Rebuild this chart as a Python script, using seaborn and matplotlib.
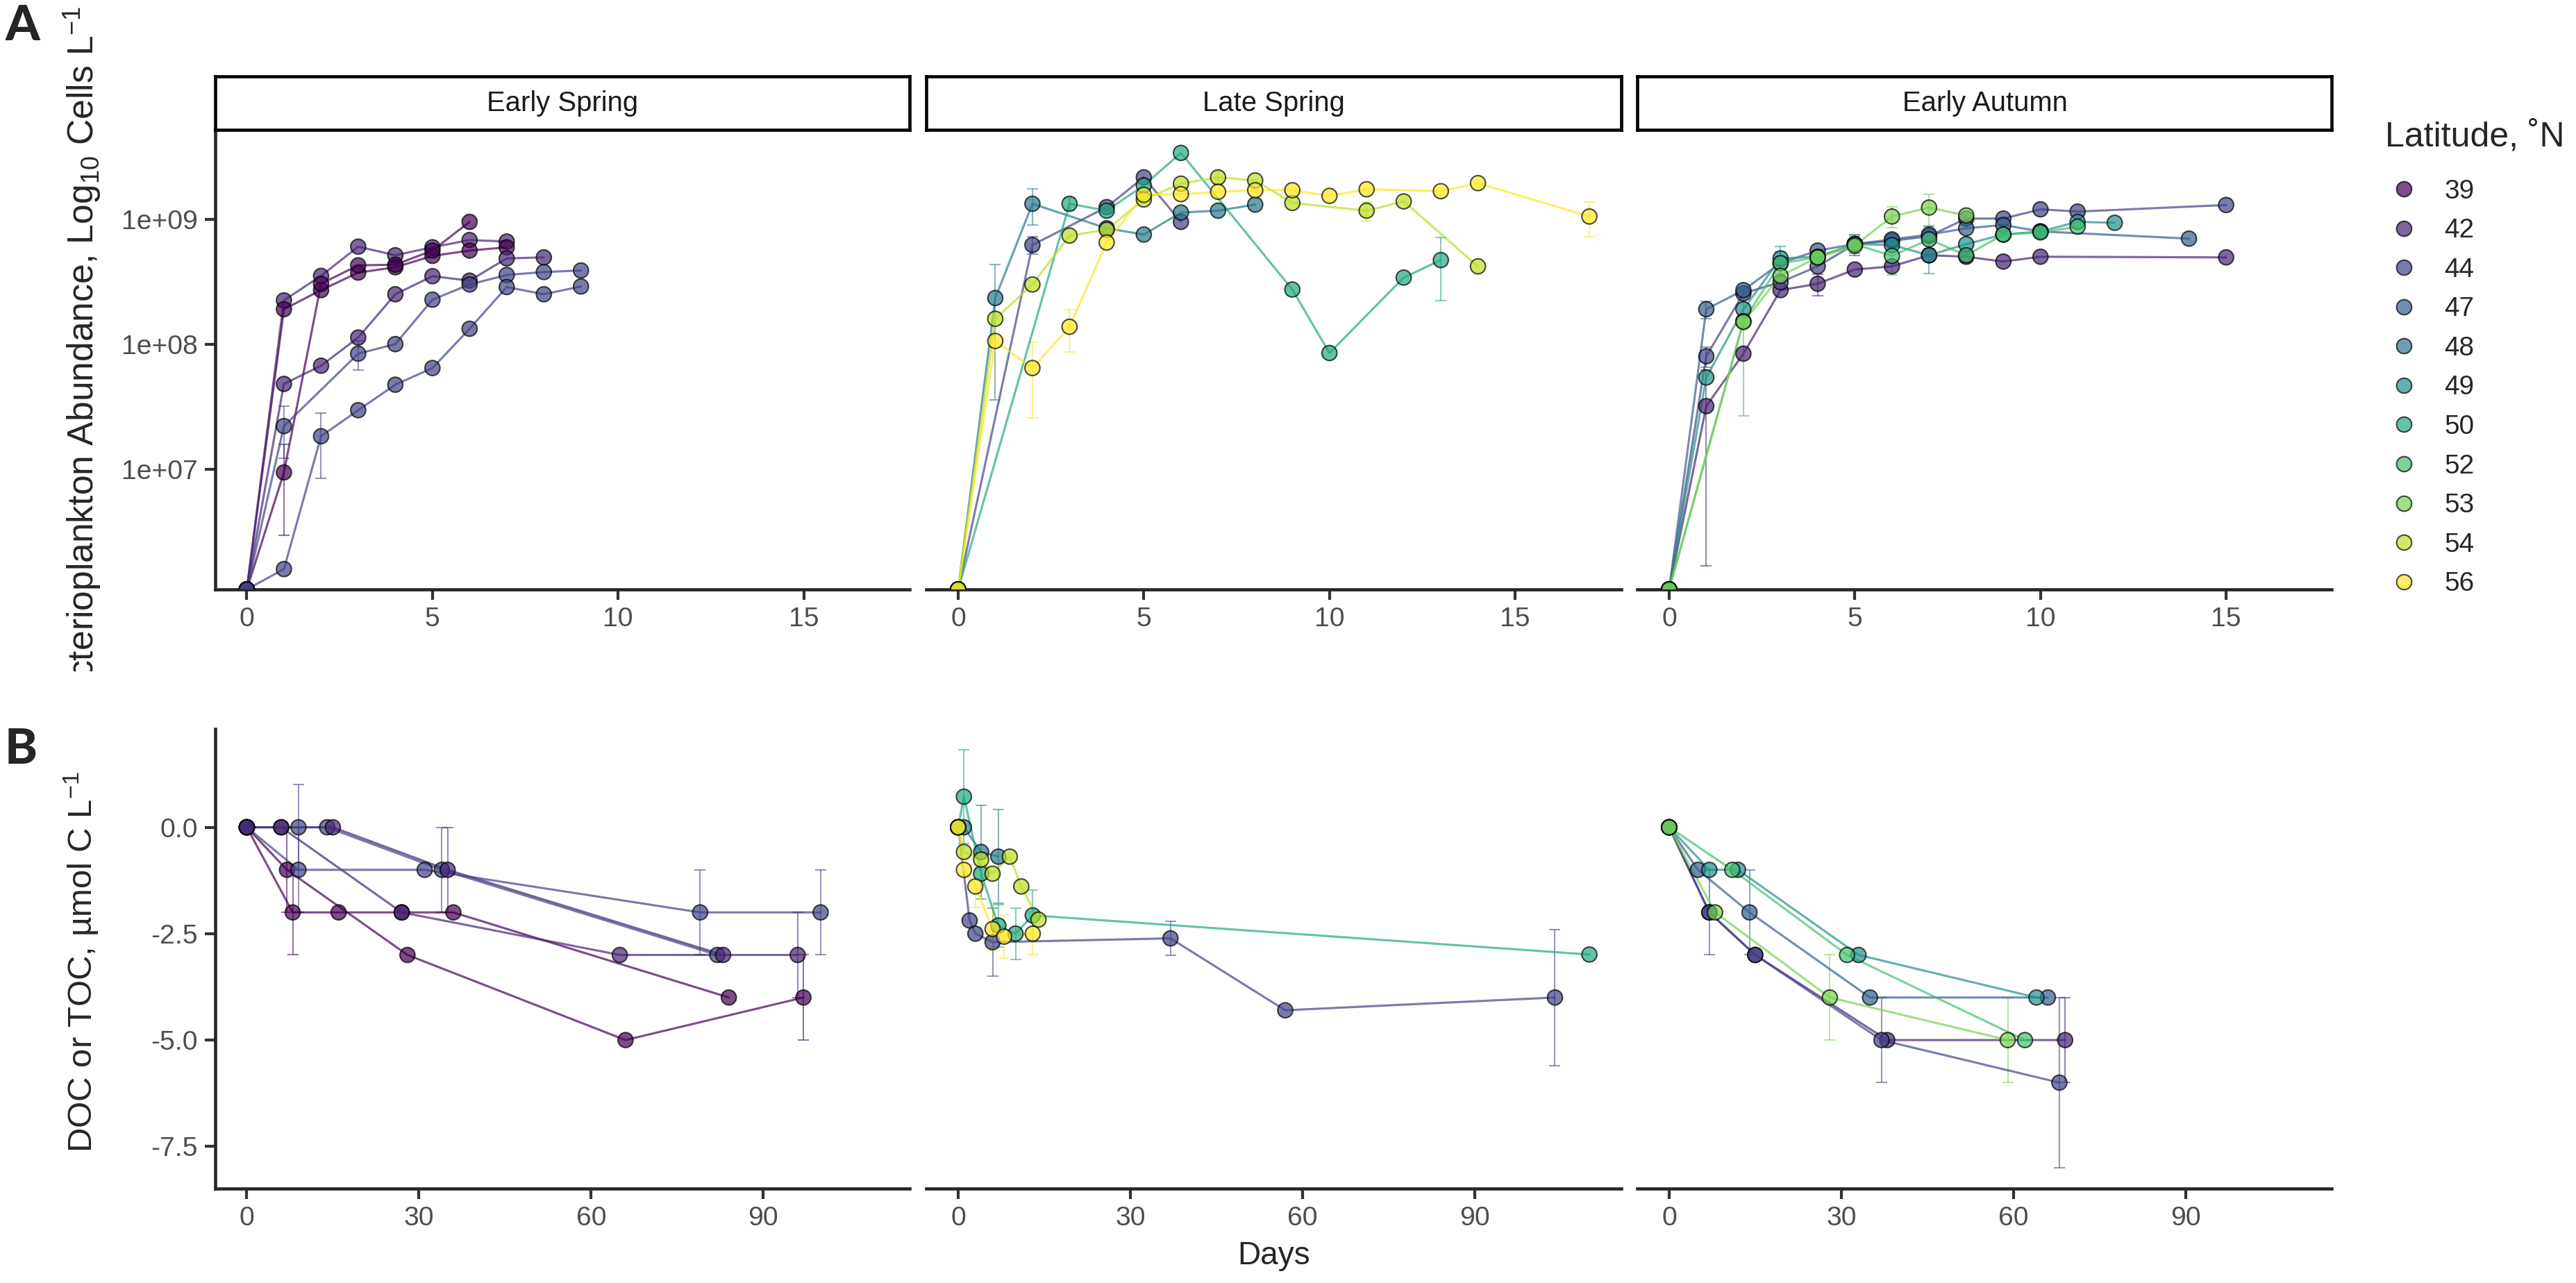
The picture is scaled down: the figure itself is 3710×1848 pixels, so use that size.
import matplotlib
matplotlib.use("Agg")
import matplotlib.pyplot as plt
import seaborn as sns
import pandas as pd
import numpy as np
from matplotlib.lines import Line2D
from matplotlib.ticker import NullLocator
from matplotlib.transforms import Bbox

# latitude levels (legend) and facet names
lat_levels = [39, 42, 44, 47, 48, 49, 50, 52, 53, 54, 56]
seasons = ["Early Spring", "Late Spring", "Early Autumn"]

# ---------- panel A: bacterioplankton abundance (cells per litre) ----------
es_cells_lat = [42, 39, 39, 42, 44, 44]
es_cells_days = [
    [0, 1, 2, 3, 4, 5, 6, 7],
    [0, 1, 2, 3, 4, 5, 6, 7],
    [0, 1, 2, 3, 4, 5, 6],
    [0, 1, 2, 3, 4, 5, 6, 7, 8],
    [0, 1, 3, 4, 5, 6, 7, 8, 9],
    [0, 1, 2, 3, 4, 5, 6, 7, 8, 9],
]
es_cells_vals = [
    [1.1e6, 2.26e8, 3.55e8, 6.08e8, 5.19e8, 6.01e8, 6.87e8, 6.68e8],
    [1.1e6, 1.92e8, 2.73e8, 3.77e8, 4.16e8, 5.13e8, 5.66e8, 6.01e8],
    [1.1e6, 9.5e6, 3.07e8, 4.31e8, 4.36e8, 5.66e8, 9.6e8],
    [1.1e6, 4.85e7, 6.78e7, 1.14e8, 2.53e8, 3.53e8, 3.25e8, 4.9e8, 4.99e8],
    [1.1e6, 2.23e7, 8.47e7, 1.01e8, 2.29e8, 3.03e8, 3.61e8, 3.81e8, 3.92e8],
    [1.1e6, 1.6e6, 1.85e7, 2.99e7, 4.78e7, 6.5e7, 1.34e8, 2.89e8, 2.53e8, 2.92e8],
]
es_cells_sd = [{}, {}, {1: 6.5e6}, {}, {1: 1.0e7, 3: 2.2e7}, {2: 1.0e7}]

ls_cells_lat = [44, 48, 50, 54, 56]
ls_cells_days = [
    [0, 2, 4, 5, 6],
    [0, 1, 2, 4, 5, 6, 7, 8],
    [0, 3, 4, 5, 6, 9, 10, 12, 13],
    [0, 1, 2, 3, 4, 5, 6, 7, 8, 9, 11, 12, 14],
    [0, 1, 2, 3, 4, 5, 6, 7, 8, 9, 10, 11, 13, 14, 17],
]
ls_cells_vals = [
    [1.1e6, 6.27e8, 1.26e9, 2.18e9, 9.6e8],
    [1.1e6, 2.36e8, 1.34e9, 8.53e8, 7.6e8, 1.14e9, 1.18e9, 1.32e9],
    [1.1e6, 1.34e9, 1.18e9, 1.88e9, 3.42e9, 2.76e8, 8.57e7, 3.44e8, 4.75e8],
    [1.1e6, 1.61e8, 3.03e8, 7.46e8, 8.3e8, 1.45e9, 1.94e9, 2.18e9, 2.06e9,
     1.36e9, 1.18e9, 1.4e9, 4.23e8],
    [1.1e6, 1.07e8, 6.5e7, 1.39e8, 6.56e8, 1.58e9, 1.6e9, 1.67e9, 1.72e9,
     1.72e9, 1.55e9, 1.75e9, 1.69e9, 1.96e9, 1.06e9],
]
ls_cells_sd = [{2: 1.0e8}, {1: 2.0e8, 2: 4.3e8}, {3: 1.5e8, 13: 2.5e8},
               {7: 2.5e8, 11: 2.0e8}, {2: 3.9e7, 3: 5.2e7, 17: 3.3e8}]

ea_cells_lat = [42, 44, 47, 49, 52, 53]
ea_cells_days = [
    [0, 1, 2, 3, 4, 5, 6, 7, 8, 9, 10, 15],
    [0, 1, 2, 3, 4, 5, 6, 7, 8, 9, 10, 11, 15],
    [0, 1, 2, 3, 4, 5, 6, 7, 8, 9, 10, 14],
    [0, 1, 2, 3, 4, 5, 6, 7, 8, 9, 10, 11, 12],
    [0, 2, 3, 4, 5, 6, 7, 8, 9, 10, 11],
    [0, 2, 3, 4, 5, 6, 7, 8],
]
ea_cells_vals = [
    [1.1e6, 3.22e7, 8.47e7, 2.73e8, 3.07e8, 3.99e8, 4.23e8, 5.19e8, 5.05e8,
     4.62e8, 5.05e8, 4.99e8],
    [1.1e6, 8.07e7, 2.57e8, 3.16e8, 4.23e8, 6.37e8, 6.76e8, 7.38e8, 1.02e9,
     1.02e9, 1.21e9, 1.16e9, 1.31e9],
    [1.1e6, 1.92e8, 2.73e8, 4.49e8, 5.66e8, 6.37e8, 6.95e8, 7.6e8, 8.53e8,
     9.06e8, 8.05e8, 7.05e8],
    [1.1e6, 5.46e7, 1.92e8, 4.9e8, 5.05e8, 6.37e8, 6.27e8, 5.19e8, 6.37e8,
     7.6e8, 8.05e8, 9.6e8, 9.44e8],
    [1.1e6, 1.54e8, 4.49e8, 4.99e8, 6.37e8, 5.13e8, 6.95e8, 5.19e8, 7.6e8,
     7.91e8, 8.79e8],
    [1.1e6, 1.52e8, 3.55e8, 4.99e8, 6.19e8, 1.06e9, 1.25e9, 1.08e9],
]
ea_cells_sd = [{1: 3.05e7, 4: 6e7}, {1: 1.5e7, 5: 1.2e8, 7: 1.5e8},
               {1: 3e7, 3: 1e8}, {3: 1.2e8, 5: 1e8, 7: 1.5e8},
               {2: 1.27e8, 6: 1.5e8}, {6: 2e8, 7: 3.5e8}]

# ---------- panel B: change in DOC / TOC (umol C per litre) ----------
es_doc_lat = [39, 42, 39, 44, 44, 42]
es_doc_days = [
    [0, 8, 16, 27, 36, 84],
    [0, 6, 27, 65, 96],
    [0, 7, 28, 66, 97],
    [0, 9, 31, 79, 100],
    [0, 9, 14, 34, 82],
    [0, 6, 15, 35, 83],
]
es_doc_vals = [
    [0, -2, -2, -2, -2, -4],
    [0, 0, -2, -3, -3],
    [0, -1, -3, -5, -4],
    [0, -1, -1, -2, -2],
    [0, 0, 0, -1, -3],
    [0, 0, 0, -1, -3],
]
es_doc_sd = [{8: 1}, {96: 1}, {7: 1, 97: 1}, {9: 1, 79: 1, 100: 1},
             {9: 1, 34: 1}, {35: 1}]

ls_doc_lat = [44, 48, 50, 54, 56]
ls_doc_days = [
    [0, 2, 3, 6, 37, 57, 104],
    [0, 1, 4, 7],
    [0, 1, 4, 7, 10, 13, 110],
    [0, 1, 4, 6, 9, 11, 14],
    [0, 1, 3, 6, 8, 13],
]
ls_doc_vals = [
    [0, -2.19, -2.5, -2.7, -2.61, -4.3, -4.0],
    [0, 0, -0.58, -0.69],
    [0, 0.72, -1.09, -2.31, -2.5, -2.07, -2.99],
    [0, -0.58, -0.76, -1.09, -0.69, -1.39, -2.17],
    [0, -1.0, -1.39, -2.39, -2.57, -2.5],
]
ls_doc_sd = [{6: 0.8, 37: 0.4, 104: 1.6}, {4: 1.1, 7: 1.1},
             {1: 1.1, 7: 0.5, 10: 0.6, 13: 0.6}, {}, {3: 0.5, 6: 0.5, 8: 0.5, 13: 0.5}]

ea_doc_lat = [42, 44, 47, 49, 52, 53]
ea_doc_days = [
    [0, 7, 15, 38, 69],
    [0, 7, 15, 37, 68],
    [0, 5, 14, 35, 66],
    [0, 7, 12, 33, 64],
    [0, 11, 31, 62],
    [0, 8, 28, 59],
]
ea_doc_vals = [
    [0, -2, -3, -5, -5],
    [0, -2, -3, -5, -6],
    [0, -1, -2, -4, -4],
    [0, -1, -1, -3, -4],
    [0, -1, -3, -5],
    [0, -2, -4, -5],
]
ea_doc_sd = [{69: 1}, {7: 1, 37: 1, 68: 2}, {14: 1}, {}, {}, {28: 1, 59: 1}]

cells_sets = [
    (es_cells_lat, es_cells_days, es_cells_vals, es_cells_sd),
    (ls_cells_lat, ls_cells_days, ls_cells_vals, ls_cells_sd),
    (ea_cells_lat, ea_cells_days, ea_cells_vals, ea_cells_sd),
]
doc_sets = [
    (es_doc_lat, es_doc_days, es_doc_vals, es_doc_sd),
    (ls_doc_lat, ls_doc_days, ls_doc_vals, ls_doc_sd),
    (ea_doc_lat, ea_doc_days, ea_doc_vals, ea_doc_sd),
]

sns.set_theme(style="ticks")
plt.rcParams["font.family"] = ["Liberation Sans", "DejaVu Sans"]
plt.rcParams["mathtext.default"] = "regular"

cmap = matplotlib.colormaps["viridis"]
pal = {lat: cmap(i / (len(lat_levels) - 1)) for i, lat in enumerate(lat_levels)}


def to_frame(lats, days, vals, sds):
    rows = []
    for i, (lat, d, v, s) in enumerate(zip(lats, days, vals, sds)):
        for dd, vv in zip(d, v):
            rows.append((i, lat, dd, vv, s.get(dd, 0)))
    return pd.DataFrame(rows, columns=["sid", "lat", "day", "val", "sd"])


def draw(ax, df):
    for _, r in df[df.sd > 0].iterrows():
        ax.errorbar(r.day, r.val, yerr=r.sd, color=pal[r.lat], alpha=0.55,
                    lw=0.5, capsize=2.0, capthick=0.5, zorder=1)
    sns.lineplot(data=df, x="day", y="val", hue="lat", units="sid",
                 estimator=None, palette=pal, ax=ax, legend=False,
                 lw=0.75, alpha=0.7, zorder=2)
    sns.scatterplot(data=df, x="day", y="val", hue="lat", palette=pal, ax=ax,
                    legend=False, s=27, edgecolor="black", linewidth=0.5,
                    alpha=0.7, zorder=3)


W, H = 3711, 1848
fig = plt.figure(figsize=(W / 300, H / 300), dpi=300)

col_x = [310, 1334.5, 2358.5]
pw = 1000
row_a = (189, 849)
row_b = (1050, 1712)


def add_ax(x, top, bot):
    ax = fig.add_axes([x / W, 1 - bot / H, pw / W, (bot - top) / H])
    ax.patch.set_alpha(0)
    return ax


def style(ax, first):
    ax.set_xlabel("")
    ax.set_ylabel("")
    ax.spines["top"].set_visible(False)
    ax.spines["right"].set_visible(False)
    ax.spines["bottom"].set_linewidth(1.1)
    ax.spines["left"].set_linewidth(1.1)
    ax.tick_params(length=3.5, width=1.0, color="#333333", labelsize=9.4,
                   labelcolor="#4D4D4D", pad=2.5)
    if not first:
        ax.spines["left"].set_visible(False)
        ax.tick_params(axis="y", left=False, labelleft=False)


for j in range(3):
    # panel A
    ax = add_ax(col_x[j], *row_a)
    ax.set_yscale("log")
    draw(ax, to_frame(*cells_sets[j]))
    ax.set_ylim(1.1e6, 5.1e9)
    ax.set_xlim(-0.85, 17.85)
    ax.set_xticks([0, 5, 10, 15])
    ax.set_yticks([1e7, 1e8, 1e9])
    ax.set_yticklabels(["1e+07", "1e+08", "1e+09"])
    ax.yaxis.set_minor_locator(NullLocator())
    style(ax, j == 0)

    # panel B
    bx = add_ax(col_x[j], *row_b)
    draw(bx, to_frame(*doc_sets[j]))
    bx.set_ylim(-8.49, 2.31)
    bx.set_xlim(-5.5, 115.5)
    bx.set_xticks([0, 30, 60, 90])
    bx.set_yticks([0, -2.5, -5, -7.5])
    bx.set_yticklabels(["0.0", "-2.5", "-5.0", "-7.5"])
    style(bx, j == 0)

    # facet strip, drawn on top of the panel edge
    sx = fig.add_axes([col_x[j] / W, 1 - 187 / H, pw / W, 77 / H])
    sx.set_xticks([])
    sx.set_yticks([])
    for sp in sx.spines.values():
        sp.set_linewidth(1.1)
        sp.set_color("black")
    sx.text(0.5, 0.5, seasons[j], ha="center", va="center", fontsize=9.6,
            color="#1A1A1A", transform=sx.transAxes)

# axis titles (the long panel-A title runs past the panel and is cut, as in the source)
ya = fig.text(119 / W, 1 - 524 / H,
              "Bacterioplankton Abundance, Log$_{10}$ Cells L$^{-1}$",
              rotation=90, ha="center", va="center", fontsize=12.4)
ya.set_clip_box(Bbox.from_extents(0, H - 967, W, H))
ya.set_clip_on(True)
fig.text(117 / W, 1 - 1386 / H, "DOC or TOC, µmol C L$^{-1}$", rotation=90,
         ha="center", va="center", fontsize=11.8)
fig.text(1835 / W, 1 - 1809 / H, "Days", ha="center", va="center", fontsize=11)

# panel tags
fig.text(33 / W, 1 - 38 / H, "A", ha="center", va="center", fontsize=17,
         fontweight="black", family=["Lato", "Liberation Sans"])
fig.text(30 / W, 1 - 1079 / H, "B", ha="center", va="center", fontsize=17,
         fontweight="black", family=["Lato", "Liberation Sans"])

# legend
fig.text(3435 / W, 1 - 197 / H, "Latitude, ˚N", ha="left", va="center",
         fontsize=12)
handles = [Line2D([], [], marker="o", linestyle="", markersize=5.2,
                  markerfacecolor=pal[lat], markeredgecolor="black",
                  markeredgewidth=0.5, alpha=0.7) for lat in lat_levels]
fig.legend(handles, [str(l) for l in lat_levels],
           loc="center left", bbox_to_anchor=(3443 / W, 1 - 558.5 / H),
           frameon=False, fontsize=9.3, handlelength=1.0,
           handletextpad=1.0, labelspacing=0.53, borderpad=0,
           borderaxespad=0)

fig.savefig("out.png", dpi=300)
